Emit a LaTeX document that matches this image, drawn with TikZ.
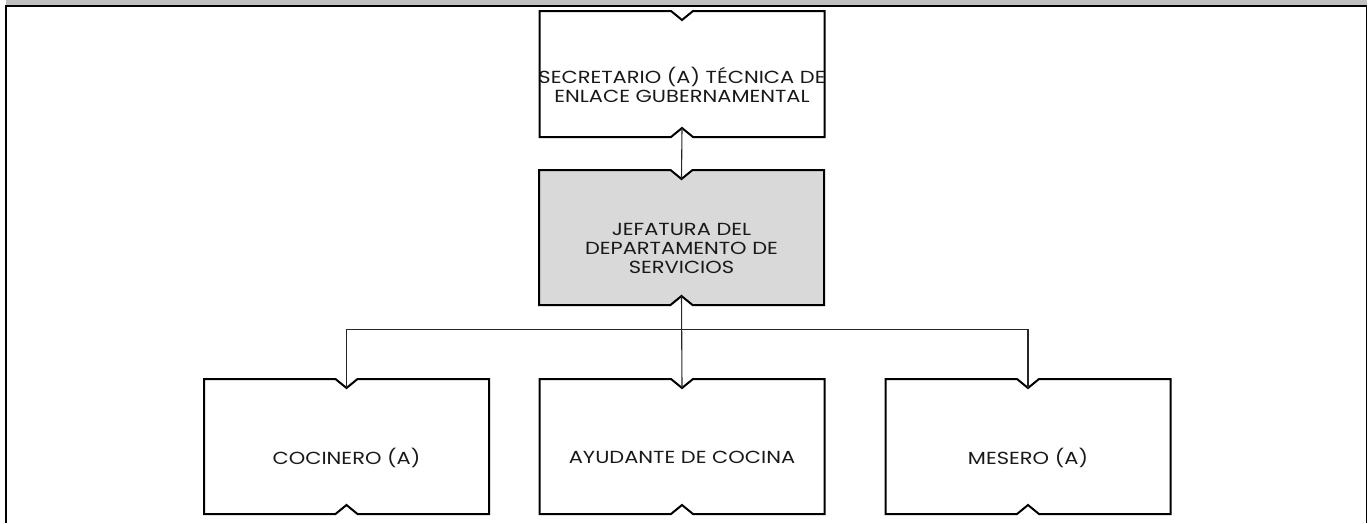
\documentclass[tikz,border=0pt]{standalone}
\usepackage{fontspec}
\setmainfont{Poppins}
\newfontfamily\lblff[FakeStretch=1.2]{Poppins}
\usetikzlibrary{calc,backgrounds}
\definecolor{bargray}{HTML}{C0C0C0}
\definecolor{boxgray}{HTML}{D9D9D9}
\newcommand\lblfont{\lblff\fontsize{17.5pt}{18.8pt}\selectfont}
\tikzset{
  orgbox/.style={draw=none, inner sep=0pt, outer sep=0pt, minimum width=285pt, minimum height=135pt},
  lbl/.style={font=\lblfont, align=center, text=black!90, yshift=-11pt},
  boxline/.style={line width=2pt, black, line join=miter},
  conn/.style={line width=1.1pt, black!85}
}
\newcommand\notchpath[1]{(#1.north west) -- ([xshift=-11pt]#1.north) -- ([yshift=-9pt]#1.north) -- ([xshift=11pt]#1.north) -- (#1.north east) -- (#1.south east) -- ([xshift=11pt]#1.south) -- ([yshift=9pt]#1.south) -- ([xshift=-11pt]#1.south) -- (#1.south west) -- cycle}
\begin{document}
\begin{tikzpicture}[x=1pt,y=-1pt]
\useasboundingbox (0,0) rectangle (1368,523);
% frame
\fill[bargray] (6,0) rectangle (1367,5);
\draw[line width=2pt] (5,5.5) -- (1367,5.5);
\draw[line width=2pt] (6,4.5) -- (6,523);
\draw[line width=1.5pt] (1366.5,4.5) -- (1366.5,523);
% boxes
\node[orgbox, minimum height=126pt, label={[lbl]center:SECRETARIO (A) TÉCNICA DE\\ENLACE GUBERNAMENTAL}] (sec) at (682,74) {};
\node[orgbox, label={[lbl]center:JEFATURA DEL\\DEPARTAMENTO DE\\SERVICIOS}] (jef) at (681.5,237.5) {};
\node[orgbox, label={[lbl]center:COCINERO (A)}] (coc) at (346.5,446.5) {};
\node[orgbox, label={[lbl]center:AYUDANTE DE COCINA}] (ayu) at (682,446.5) {};
\node[orgbox, label={[lbl]center:MESERO (A)}] (mes) at (1028,446.5) {};
\begin{scope}[on background layer]
\draw[boxline] \notchpath{sec};
\filldraw[boxline, fill=boxgray] \notchpath{jef};
\draw[boxline] \notchpath{coc};
\draw[boxline] \notchpath{ayu};
\draw[boxline] \notchpath{mes};
\end{scope}
% connectors
\coordinate (bus) at (682,329.5);
\draw[conn] ([yshift=9pt]sec.south) -- ([yshift=-9pt]jef.north);
\draw[conn] ([yshift=9pt]jef.south) -- ([yshift=-9pt]ayu.north);
\draw[conn] ([yshift=-9pt]coc.north) -- (coc.north |- bus) -- (mes.north |- bus) -- ([yshift=-9pt]mes.north);
\end{tikzpicture}
\end{document}
